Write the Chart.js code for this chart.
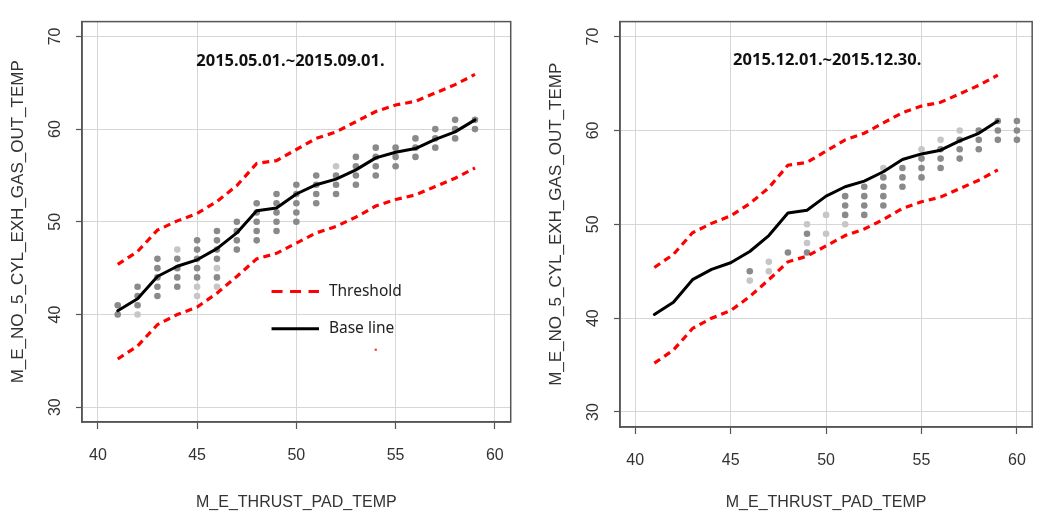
<!DOCTYPE html>
<html>
<head>
<meta charset="utf-8">
<script src="https://cdn.jsdelivr.net/npm/chart.js@4.4.1/dist/chart.umd.min.js"></script>
<style>
html, body { margin: 0; padding: 0; background: #ffffff; }
#wrap { position: relative; width: 1043px; height: 516px; overflow: hidden; }
canvas { position: absolute; top: 0; }
#c1 { left: 0; }
#c2 { left: 521px; }
</style>
</head>
<body>
<div id="wrap">
  <canvas id="c1" width="521" height="516"></canvas>
  <canvas id="c2" width="522" height="516"></canvas>
</div>
<script>
// ---------------- data ----------------
const lineX = [41, 42, 43, 44, 45, 46, 47, 48, 49, 50, 51, 52, 53, 54, 55, 56, 57, 58, 59];
const baseline = [40.4, 41.7, 44.1, 45.2, 45.9, 47.1, 48.8, 51.2, 51.5, 53.0, 54.0, 54.6, 55.6, 56.9, 57.5, 57.9, 58.9, 59.7, 61.0];
const thresholdUpper = [45.4, 46.8, 49.1, 50.1, 50.9, 52.2, 53.9, 56.3, 56.6, 57.8, 59.0, 59.7, 60.8, 61.9, 62.6, 63.0, 63.9, 64.8, 65.9];
const thresholdLower = [35.2, 36.6, 38.9, 40.0, 40.8, 42.3, 44.1, 46.0, 46.6, 47.7, 48.8, 49.5, 50.5, 51.7, 52.4, 52.9, 53.8, 54.7, 55.8];

// observed points: one list of y values per x category
const pointX = [41, 42, 43, 44, 45, 46, 47, 48, 49, 50, 51, 52, 53, 54, 55, 56, 57, 58, 59, 60];
const leftPoints = [
  [40, 41], [41, 42, 43], [42, 43, 44, 45, 46], [43, 44, 45, 46], [44, 45, 46, 47, 48],
  [44, 46, 47, 48, 49], [47, 48, 49, 50], [48, 49, 50, 51, 52], [49, 50, 51, 52, 53], [50, 51, 52, 53, 54],
  [52, 53, 54, 55], [53, 54, 55], [54, 55, 56, 57], [55, 56, 57, 58], [56, 57, 58],
  [57, 58, 59], [58, 59, 60], [59, 60, 61], [60, 61], []
];
const leftPointsLight = [
  [], [40], [], [47], [42, 43],
  [43, 45], [], [], [], [],
  [], [56], [], [], [],
  [], [], [], [], []
];
const rightPoints = [
  [], [], [], [], [],
  [45], [], [47], [47, 49], [],
  [51, 52, 53], [51, 52, 53, 54], [52, 53, 54, 55], [54, 55, 56], [55, 56, 57],
  [56, 57, 58], [57, 58, 59], [58, 59, 60], [59, 60, 61], [59, 60, 61]
];
const rightPointsLight = [
  [], [], [], [], [],
  [44], [45, 46], [], [48, 50], [49, 51],
  [50], [], [56], [], [58],
  [59], [60], [], [], []
];
const leftStrayMark = [[54.0, 36.2]];

const xTickValues = [40, 45, 50, 55, 60];
const xTickLabels = ['40', '45', '50', '55', '60'];
const yTickValues = [30, 40, 50, 60, 70];
const yTickLabels = ['30', '40', '50', '60', '70'];

const xTitle = 'M_E_THRUST_PAD_TEMP';
const yTitle = 'M_E_NO_5_CYL_EXH_GAS_OUT_TEMP';
const leftPeriod = '2015.05.01.~2015.09.01.';
const rightPeriod = '2015.12.01.~2015.12.30.';
const legendLabels = ['Threshold', 'Base line'];

// ---------------- helpers ----------------
const toXY = (xs, ys) => xs.map((x, i) => ({ x: x, y: ys[i] }));
const flatPts = (xs, lists) => {
  const out = [];
  lists.forEach((ys, i) => ys.forEach(y => out.push({ x: xs[i], y: y })));
  return out;
};

const AXIS_FONT = '"Liberation Sans", Arial, sans-serif';
const TEXT_COLOR = '#333333';

const decorPlugin = {
  id: 'decor',
  afterDatasetsDraw(chart, args, opts) {
    const { ctx, chartArea: a, scales } = chart;
    const sx = scales.x, sy = scales.y;
    ctx.save();
    ctx.strokeStyle = '#555555';
    ctx.lineWidth = 1.5;
    ctx.strokeRect(a.left, a.top, a.right - a.left, a.bottom - a.top);
    if (opts.period) {
      ctx.font = 'bold 16.5px "Noto Sans", "Open Sans", sans-serif';
      ctx.fillStyle = '#111111';
      ctx.textAlign = 'center';
      ctx.textBaseline = 'middle';
      ctx.fillText(opts.period.text, sx.getPixelForValue(opts.period.x), sy.getPixelForValue(opts.period.y));
    }
    if (opts.legend) {
      const L = opts.legend;
      const x0 = sx.getPixelForValue(L.x0), x1 = sx.getPixelForValue(L.x1), xt = sx.getPixelForValue(L.xt);
      L.items.forEach(it => {
        const py = sy.getPixelForValue(it.y);
        ctx.beginPath();
        ctx.strokeStyle = it.color;
        ctx.lineWidth = 3;
        ctx.setLineDash(it.dash);
        ctx.moveTo(x0, py);
        ctx.lineTo(x1, py);
        ctx.stroke();
        ctx.setLineDash([]);
        ctx.font = '15.5px "Noto Sans", "Open Sans", sans-serif';
        ctx.fillStyle = '#222222';
        ctx.textAlign = 'left';
        ctx.textBaseline = 'middle';
        ctx.fillText(it.text, xt, py);
      });
    }
    ctx.restore();
  }
};

function makeScales(cfg) {
  return {
    x: {
      type: 'linear',
      min: 39.2,
      max: 60.8,
      afterBuildTicks: s => { s.ticks = xTickValues.map(v => ({ value: v })); },
      afterFit: s => { s.height = cfg.xHeight; },
      grid: { color: '#d6d6d6', lineWidth: 1, drawTicks: true, tickLength: 7, tickColor: '#555555', tickWidth: 1.2 },
      border: { display: true, color: '#555555', width: 1.5 },
      ticks: {
        autoSkip: false, maxRotation: 0, minRotation: 0, padding: 17,
        color: TEXT_COLOR, font: { family: AXIS_FONT, size: 16 },
        callback: (v, i) => xTickLabels[i]
      },
      title: {
        display: true, text: xTitle, color: TEXT_COLOR,
        font: { family: AXIS_FONT, size: 16 }, padding: { top: 0, bottom: 4 }
      }
    },
    y: {
      type: 'linear',
      min: 28.4,
      max: 71.6,
      afterBuildTicks: s => { s.ticks = yTickValues.map(v => ({ value: v })); },
      afterFit: s => { s.width = cfg.yWidth; },
      grid: { color: '#d6d6d6', lineWidth: 1, drawTicks: true, tickLength: 6, tickColor: '#555555', tickWidth: 1.2 },
      border: { display: true, color: '#555555', width: 1.5 },
      ticks: {
        autoSkip: false, minRotation: 90, maxRotation: 90, crossAlign: 'center', padding: 12,
        color: TEXT_COLOR, font: { family: AXIS_FONT, size: 16 },
        callback: (v, i) => yTickLabels[i]
      },
      title: {
        display: true, text: yTitle, color: TEXT_COLOR,
        font: { family: AXIS_FONT, size: 17 }, padding: { top: cfg.yTitlePad, bottom: 0 }
      }
    }
  };
}

function lineDatasets() {
  return [
    {
      label: 'Base line', data: toXY(lineX, baseline), showLine: true,
      borderColor: '#000000', borderWidth: 3, pointRadius: 0, tension: 0,
      borderJoinStyle: 'round', borderCapStyle: 'round', order: 1
    },
    {
      label: 'Threshold upper', data: toXY(lineX, thresholdUpper), showLine: true,
      borderColor: '#ff0000', borderWidth: 3.2, borderDash: [7, 5], pointRadius: 0, tension: 0, order: 1
    },
    {
      label: 'Threshold lower', data: toXY(lineX, thresholdLower), showLine: true,
      borderColor: '#ff0000', borderWidth: 3.2, borderDash: [7, 5], pointRadius: 0, tension: 0, order: 1
    }
  ];
}

function pointDatasets(dark, light) {
  return [
    {
      label: 'obs', data: flatPts(pointX, dark), showLine: false,
      pointRadius: 3.3, pointBackgroundColor: '#8a8a8a', pointBorderWidth: 0, order: 3
    },
    {
      label: 'obs light', data: flatPts(pointX, light), showLine: false,
      pointRadius: 3.3, pointBackgroundColor: '#c6c6c6', pointBorderWidth: 0, order: 3
    }
  ];
}

function makeChart(id, cfg) {
  return new Chart(document.getElementById(id), {
    type: 'scatter',
    data: { datasets: cfg.datasets },
    options: {
      responsive: false,
      devicePixelRatio: 1,
      animation: false,
      events: [],
      layout: { padding: cfg.padding },
      scales: makeScales(cfg),
      plugins: {
        legend: { display: false },
        tooltip: { enabled: false },
        decor: cfg.decor
      }
    },
    plugins: [decorPlugin]
  });
}

const leftDatasets = pointDatasets(leftPoints, leftPointsLight)
  .concat(lineDatasets())
  .concat([{
    label: 'mark', data: leftStrayMark.map(p => ({ x: p[0], y: p[1] })), showLine: false,
    pointRadius: 1.3, pointBackgroundColor: '#ff4040', pointBorderWidth: 0, order: 2
  }]);

makeChart('c1', {
  datasets: leftDatasets,
  padding: { left: 0, top: 5, right: 7, bottom: 0 },
  xHeight: 94, yWidth: 82, yTitlePad: 8,
  decor: {
    period: { text: leftPeriod, x: 49.7, y: 67.3 },
    legend: {
      x0: 48.75, x1: 51.14, xt: 51.64,
      items: [
        { text: legendLabels[0], y: 42.47, color: '#ff0000', dash: [11, 7.5] },
        { text: legendLabels[1], y: 38.46, color: '#000000', dash: [] }
      ]
    }
  }
});

makeChart('c2', {
  datasets: pointDatasets(rightPoints, rightPointsLight).concat(lineDatasets()),
  padding: { left: 0, top: 9, right: 5, bottom: 0 },
  xHeight: 89, yWidth: 99, yTitlePad: 25,
  decor: {
    period: { text: rightPeriod, x: 50.06, y: 67.5 }
  }
});
</script>
</body>
</html>
